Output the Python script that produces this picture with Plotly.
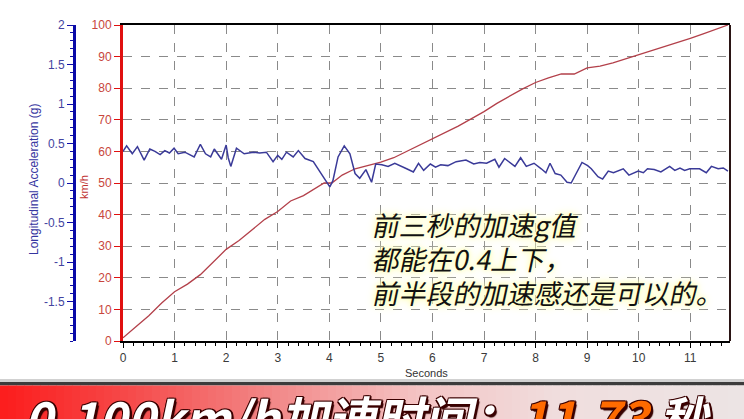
import plotly.graph_objects as go

# ---------------- data ----------------
speed_t = [0, 0.1, 0.25, 0.5, 0.75, 1.0, 1.25, 1.5, 1.75, 2.0, 2.25, 2.5, 2.75, 3.0,
           3.25, 3.5, 3.75, 3.9, 4.05, 4.25, 4.5, 4.75, 5.0, 5.25, 5.5, 5.75, 6.0,
           6.25, 6.5, 6.75, 7.0, 7.25, 7.5, 7.75, 8.0, 8.25, 8.5, 8.75, 9.0, 9.25,
           9.5, 9.75, 10.0, 10.25, 10.5, 10.75, 11.0, 11.25, 11.5, 11.73]
speed_kmh = [1, 2.5, 4.5, 8, 12, 15.6, 18, 21, 25, 29, 31.8, 35, 38.5, 41,
             44.3, 46, 48.5, 50, 50, 52.5, 54.5, 55.6, 56.6, 58, 60, 62, 64,
             65.8, 68, 70.3, 72.6, 75.2, 77.6, 79.8, 81.8, 83.3, 84.5, 84.5, 86.4, 87,
             88, 89.3, 90.5, 91.8, 93, 94.4, 95.8, 97.2, 98.6, 100]

accel_t = [0.00, 0.07, 0.18, 0.28, 0.41, 0.52, 0.62, 0.72, 0.81, 0.90, 0.99, 1.07,
           1.20, 1.38, 1.50, 1.60, 1.70, 1.77, 1.91, 2.00, 2.04, 2.09, 2.20, 2.35,
           2.53, 2.65, 2.78, 2.91, 3.00, 3.08, 3.17, 3.30, 3.40, 3.53, 3.69, 3.82,
           3.95, 4.01, 4.07, 4.17, 4.29, 4.40, 4.50, 4.59, 4.71, 4.82, 4.90, 5.02,
           5.14, 5.27, 5.50, 5.63, 5.73, 5.83, 5.96, 6.06, 6.16, 6.30, 6.46, 6.65,
           6.80, 6.92, 7.05, 7.21, 7.29, 7.40, 7.60, 7.71, 7.82, 7.97, 8.11, 8.20,
           8.28, 8.38, 8.49, 8.61, 8.69, 8.79, 8.90, 9.01, 9.08, 9.21, 9.30, 9.41,
           9.51, 9.70, 9.81, 9.99, 10.09, 10.17, 10.30, 10.43, 10.60, 10.70, 10.80,
           10.89, 10.99, 11.18, 11.31, 11.41, 11.54, 11.64, 11.73]
accel_g = [0.40, 0.47, 0.37, 0.46, 0.29, 0.43, 0.40, 0.36, 0.41, 0.38, 0.44, 0.37,
           0.39, 0.33, 0.49, 0.37, 0.33, 0.43, 0.30, 0.48, 0.32, 0.21, 0.44, 0.37,
           0.39, 0.38, 0.39, 0.27, 0.35, 0.30, 0.39, 0.33, 0.41, 0.31, 0.27, 0.14,
           0.00, -0.05, 0.03, 0.33, 0.47, 0.37, 0.12, 0.06, 0.17, 0.01, 0.24, 0.23,
           0.21, 0.25, 0.18, 0.14, 0.25, 0.16, 0.24, 0.20, 0.23, 0.22, 0.27, 0.29,
           0.24, 0.26, 0.25, 0.30, 0.20, 0.31, 0.21, 0.32, 0.21, 0.25, 0.18, 0.13,
           0.25, 0.12, 0.10, 0.01, 0.00, 0.12, 0.26, 0.22, 0.18, 0.08, 0.05, 0.15,
           0.13, 0.18, 0.10, 0.15, 0.13, 0.18, 0.17, 0.14, 0.21, 0.16, 0.19,
           0.16, 0.18, 0.18, 0.13, 0.21, 0.18, 0.19, 0.15]

x_ticks = list(range(0, 12))
speed_ticks = list(range(0, 101, 10))
accel_ticks = [-1.5, -1, -0.5, 0, 0.5, 1, 1.5, 2]
accel_tick_text = ["-1.5", "-1", "-0.5", "0", "0.5", "1", "1.5", "2"]

x_title = "Seconds"
speed_title = "km/h"
accel_title = "Longitudinal Acceleration (g)"
note_lines = ["前三秒的加速g值", "都能在0.4上下，", "前半段的加速感还是可以的。"]
banner_main = "0-100km/h加速时间："
banner_value = "11.73"
banner_unit = "秒"

# ---------------- geometry helpers ----------------
W, H = 744, 419
ML, MR, MT, MB = 20, 14, 25, 78
PW, PH = W - ML - MR, H - MT - MB


def px(x):
    return (x - ML) / PW


def py(y):
    return (H - MB - y) / PH


RED_TXT = "#c8463c"
BLUE_TXT = "#4343a0"

fig = go.Figure()
fig.add_trace(go.Scatter(x=speed_t, y=speed_kmh, mode="lines",
                         line=dict(color="#b3404a", width=1.3), yaxis="y",
                         showlegend=False, hoverinfo="skip"))
fig.add_trace(go.Scatter(x=accel_t, y=accel_g, mode="lines",
                         line=dict(color="#3a3a98", width=1.5), yaxis="y2",
                         showlegend=False, hoverinfo="skip"))

shapes = []
# right border
shapes.append(dict(type="line", xref="paper", yref="paper", x0=1, x1=1, y0=0, y1=1,
                   line=dict(color="#2a1414", width=2)))

# banner shadow
shapes.append(dict(type="rect", xref="paper", yref="paper", x0=px(0), x1=px(W),
                   y0=py(382), y1=py(379), line=dict(width=0),
                   fillcolor="rgba(0,0,0,0.18)", layer="above"))
shapes.append(dict(type="rect", xref="paper", yref="paper", x0=px(0), x1=px(W),
                   y0=py(385.5), y1=py(382), line=dict(width=0),
                   fillcolor="#3c3c3c", layer="above"))

# banner gradient (style only)
stops = [(0, (252, 28, 28)), (120, (246, 70, 70)), (260, (242, 130, 130)),
         (420, (244, 196, 196)), (560, (240, 222, 222)), (744, (236, 228, 228))]
N = 93
for i in range(N):
    xa = W * i / N
    xb = W * (i + 1) / N + 0.6
    xm = (xa + xb) / 2
    for (s0, c0), (s1, c1) in zip(stops[:-1], stops[1:]):
        if s0 <= xm <= s1:
            f = (xm - s0) / (s1 - s0)
            c = tuple(int(round(c0[k] + (c1[k] - c0[k]) * f)) for k in range(3))
            break
    else:
        c = stops[-1][1]
    shapes.append(dict(type="rect", xref="paper", yref="paper", x0=px(xa), x1=px(xb),
                       y0=py(H + 2), y1=py(385.5), line=dict(width=0),
                       fillcolor="rgb(%d,%d,%d)" % c, layer="above"))

annotations = []
annotations.append(dict(text=x_title, xref="paper", yref="paper", x=0.5 * (px(123) + 1),
                        y=py(373), xanchor="center", yanchor="middle", showarrow=False,
                        font=dict(family="Liberation Sans, Arial", size=11, color="#333333")))
annotations.append(dict(text=speed_title, xref="paper", yref="paper", x=px(84), y=py(187),
                        xanchor="center", yanchor="middle", showarrow=False, textangle=-90,
                        font=dict(family="Liberation Sans, Arial", size=11, color="#c03030")))
annotations.append(dict(text=accel_title, xref="paper", yref="paper", x=px(34), y=py(180),
                        xanchor="center", yanchor="middle", showarrow=False, textangle=-90,
                        font=dict(family="Liberation Sans, Arial", size=12, color="#3535a0")))
note_y = [224, 258, 292]
for line, yy in zip(note_lines, note_y):
    annotations.append(dict(text=line, xref="paper", yref="paper",
                            x=px(372), y=py(yy), xanchor="left", yanchor="middle",
                            align="left", showarrow=False,
                            font=dict(family="Noto Sans CJK SC", size=27, color="#111111",
                                      shadow="0 0 4px #ffffa8, 0 0 8px #ffffc0, 0 0 12px #ffffd0")))
outline = ("2px 2px 0 #3a0000, -1px -1px 0 #3a0000, 1px -1px 0 #3a0000, "
           "-1px 1px 0 #3a0000, 2px 0 0 #3a0000, 0 2px 0 #3a0000, 3px 3px 1px #300000")
annotations.append(dict(
    text="<b>" + banner_main + "<span style='color:#ff6a00'>" + banner_value +
         "</span> " + banner_unit + "</b>",
    xref="paper", yref="paper", x=px(27), y=py(379), xanchor="left", yanchor="top",
    showarrow=False,
    font=dict(family="Noto Sans CJK SC", size=48, color="#ffffff", shadow=outline)))

fig.update_layout(
    width=W, height=H,
    margin=dict(l=ML, r=MR, t=MT, b=MB),
    paper_bgcolor="white", plot_bgcolor="white",
    shapes=shapes, annotations=annotations, showlegend=False,
    xaxis=dict(domain=[px(123), 1], range=[0, 11.77], tickvals=x_ticks,
               ticks="outside", ticklen=5, tickcolor="#000", tickwidth=1,
               minor=dict(dtick=0.2, ticks="outside", ticklen=3, tickcolor="#000", showgrid=False),
               showline=True, linecolor="#000", linewidth=2, mirror=True,
               showgrid=True, gridcolor="#8a8a8a", griddash="dash", gridwidth=1,
               zeroline=False,
               tickfont=dict(family="Liberation Sans, Arial", size=12, color="#3a3a3a")),
    yaxis=dict(range=[0, 100], tickvals=speed_ticks, ticks="outside", ticklen=6,
               tickcolor="#e01010", tickwidth=1, showline=True, linecolor="#e01010",
               linewidth=3, showgrid=True, gridcolor="#8a8a8a", griddash="dash",
               gridwidth=1, zeroline=False,
               tickfont=dict(family="Liberation Sans, Arial", size=12, color=RED_TXT)),
    yaxis2=dict(range=[-2, 2], overlaying="y", anchor="free", side="left",
                position=px(74), tickvals=accel_ticks, ticktext=accel_tick_text,
                ticks="outside", ticklen=6, tickcolor="#1010a8",
                minor=dict(dtick=0.1, ticks="outside", ticklen=3, tickcolor="#1010a8"),
                showline=True, linecolor="#0a0aa8", linewidth=3, showgrid=False,
                zeroline=False,
                tickfont=dict(family="Liberation Sans, Arial", size=12, color=BLUE_TXT)),
)

slant_js = """
document.body.style.margin='0';
document.body.style.overflow='hidden';
function slantText(){
  document.querySelectorAll('.annotation-text').forEach(function(t){
    var s = t.textContent || '';
    if (/[\\u4e00-\\u9fff]/.test(s)) {
      t.style.transformBox = 'fill-box';
      t.style.transformOrigin = 'center';
      t.style.transform = 'skewX(-12deg)';
    }
  });
}
slantText();
setTimeout(slantText, 30);
"""

fig.write_html("out.html", config={"displayModeBar": False}, post_script=slant_js)
